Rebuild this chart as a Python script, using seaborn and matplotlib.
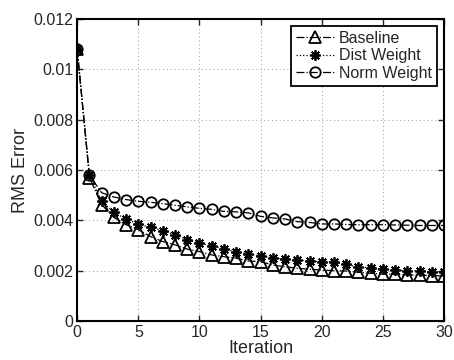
import matplotlib
matplotlib.use("Agg")
import matplotlib.pyplot as plt
import numpy as np
import pandas as pd
import seaborn as sns

iterations = list(range(31))

baseline = [0.0108, 0.0057, 0.00463, 0.00412, 0.00383, 0.00363, 0.00336, 0.00316,
            0.00303, 0.00286, 0.00276, 0.00263, 0.00256, 0.0025, 0.00239, 0.00236,
            0.00223, 0.00216, 0.0021, 0.00206, 0.00203, 0.002, 0.00199, 0.00194,
            0.0019, 0.00187, 0.00186, 0.00183, 0.00183, 0.0018, 0.0018]

dist_weight = [0.0108, 0.0058, 0.00476, 0.00433, 0.00405, 0.00385, 0.00372, 0.0036,
               0.00343, 0.00323, 0.0031, 0.00299, 0.00287, 0.00276, 0.00267, 0.00259,
               0.00252, 0.00246, 0.00243, 0.00239, 0.00236, 0.00235, 0.00227, 0.00214,
               0.00213, 0.00206, 0.00203, 0.002, 0.002, 0.00196, 0.00196]

norm_weight = [0.0108, 0.0058, 0.0051, 0.00493, 0.00483, 0.00476, 0.00472, 0.00467,
               0.0046, 0.00454, 0.00448, 0.00444, 0.00436, 0.00434, 0.0043, 0.00416,
               0.0041, 0.00406, 0.00395, 0.00392, 0.00386, 0.00386, 0.00384, 0.00383,
               0.00383, 0.00383, 0.00382, 0.00381, 0.0038, 0.0038, 0.0038]

series = [
    ("Baseline", baseline, "-.", "^", 8.5),
    ("Dist Weight", dist_weight, ":", (8, 2, 0), 7.5),
    ("Norm Weight", norm_weight, "-.", "o", 7.5),
]

sns.set_style("ticks")
plt.rcParams["font.family"] = ["Liberation Sans", "DejaVu Sans"]

fig = plt.figure(figsize=(4.54, 3.6), dpi=100)
ax = fig.add_axes([0.17, 0.108, 0.808, 0.839])

for name, vals, ls, mk, ms in series:
    df = pd.DataFrame({"Iteration": iterations, "RMS": vals})
    sns.lineplot(data=df, x="Iteration", y="RMS", ax=ax, color="black",
                 linestyle=ls, marker=mk, markersize=ms, markerfacecolor="none",
                 markeredgecolor="black", markeredgewidth=1.3, linewidth=0.9,
                 label=name)

ax.set_xlim(0, 30)
ax.set_ylim(0, 0.012)
ax.set_xticks(np.arange(0, 31, 5))
ax.set_yticks(np.arange(0, 0.0121, 0.002))
ax.set_yticklabels(["0", "0.002", "0.004", "0.006", "0.008", "0.01", "0.012"])
ax.grid(True, linestyle=(0, (1, 3)), color="#999999", linewidth=0.7)
ax.tick_params(direction="in", top=True, right=True, length=4, width=1,
               labelsize=11.5, pad=3)
for sp in ax.spines.values():
    sp.set_visible(True)
    sp.set_linewidth(1.5)
    sp.set_color("black")

ax.set_xlabel("Iteration", fontsize=13, labelpad=0)
ax.set_ylabel("RMS Error", fontsize=13, labelpad=3)

leg = ax.legend(loc="upper right", fontsize=11.5, frameon=True, fancybox=False,
                edgecolor="black", framealpha=1, borderaxespad=0.45,
                handlelength=2.4, handletextpad=0.3, borderpad=0.3,
                labelspacing=0.15)
leg.get_frame().set_linewidth(1.3)

fig.savefig("out.png", dpi=100)
